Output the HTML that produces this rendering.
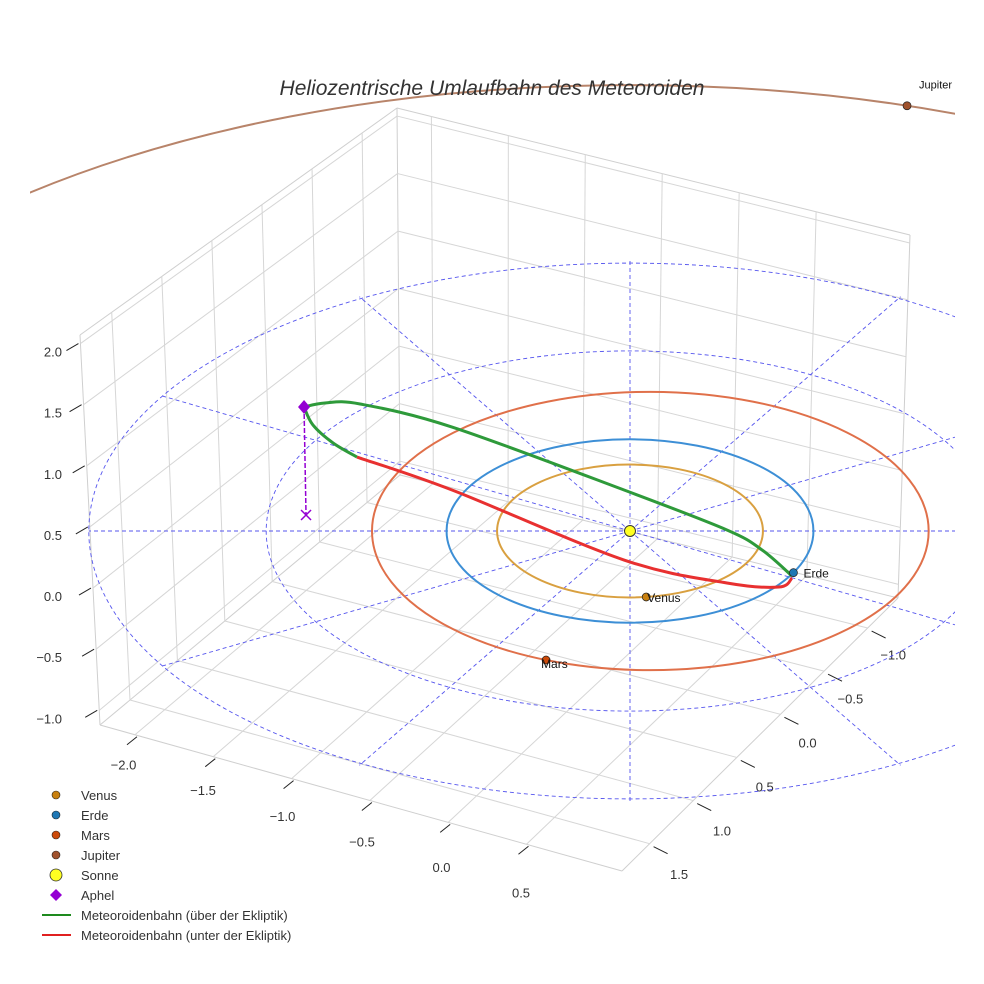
<!DOCTYPE html>
<html><head><meta charset="utf-8"><style>
body{margin:0;background:#fff}
svg{display:block;font-family:"Liberation Sans",sans-serif}
</style></head><body>
<svg id="c" width="984" height="984" viewBox="0 0 984 984">
<defs><clipPath id="clip"><rect x="30" y="0" width="925" height="984"/></clipPath>
<clipPath id="clipJ"><rect x="30" y="0" width="925" height="300"/></clipPath></defs>
<g id="grid"></g>
<g id="ecl" clip-path="url(#clip)"></g>
<g id="jup" clip-path="url(#clipJ)"></g>
<g id="marks"></g>
<text x="492" y="95" text-anchor="middle" font-size="21" font-style="italic" fill="#333">Heliozentrische Umlaufbahn des Meteoroiden</text>
<g id="legend" font-size="13" fill="#333"></g>
</svg>
<script>
// ---- data ----
const xTicks=["−2.0","−1.5","−1.0","−0.5","0.0","0.5"];
const yTicks=["1.5","1.0","0.5","0.0","−0.5","−1.0"];
const zTicks=[-1.0,-0.5,0.0,0.5,1.0,1.5,2.0];
const zLabels=["−1.0","−0.5","0.0","0.5","1.0","1.5","2.0"];
const planetNames=["Venus","Erde","Mars","Jupiter"];
const planetA=[0.723,1.0,1.524,5.2];
const planetShiftX=[0.0,0.0,0.11,0.0];
const planetAngle=[83,27,112,-72.5];
const ringRadii=[2,3];
const spokeAngles=[0,30,60,90,120,150,180,210,240,270,300,330];
const greenX=[-1.762,-1.649,-1.459,-0.962,-0.032,0.524,0.714,0.876];
const greenV=[1.319,1.362,1.351,1.106,0.436,0.011,-0.202,-0.479];
const greenLowX=[-1.762,-1.714,-1.605,-1.476];
const greenLowV=[1.319,1.128,0.936,0.787];
const redX=[-1.476,-0.962,-0.032,0.524,0.805,0.876];
const redV=[0.787,0.436,-0.309,-0.553,-0.596,-0.5];
const aphelX=-1.762, aphelV=1.319, aphelDropV=0.17;

const NS="http://www.w3.org/2000/svg";
function mk(tag,attrs,parent){const e=document.createElementNS(NS,tag);for(const k in attrs)e.setAttribute(k,attrs[k]);parent.appendChild(e);return e;}
const G=document.getElementById('grid'),E=document.getElementById('ecl'),J=document.getElementById('jup'),M=document.getElementById('marks'),LG=document.getElementById('legend');

// ---- box geometry ----
const L=[100,725],F=[622,871],B=[400,475],R=[898,598],Lt=[80,335],Bt=[397,108],Rt=[910,235];
function bil(a,b,c,d,u,v){return [a[0]*(1-u)*(1-v)+b[0]*u*(1-v)+c[0]*(1-u)*v+d[0]*u*v,a[1]*(1-u)*(1-v)+b[1]*u*(1-v)+c[1]*(1-u)*v+d[1]*u*v];}
const floorP=(u,v)=>bil(L,F,B,R,u,v);
const leftP=(v,w)=>bil(L,B,Lt,Bt,v,w);
const backP=(u,w)=>bil(B,R,Bt,Rt,u,w);
const uOf=i=>0.067+i*0.15, vOf=j=>0.1+j*0.158, wOf=z=>(z+1.12)/3.19;
function line(p,q,st,w,name,par){const l=mk('line',{x1:p[0],y1:p[1],x2:q[0],y2:q[1],stroke:st,'stroke-width':w},par||G);return l;}
[[L,B],[B,R],[L,Lt],[Lt,Bt],[B,Bt],[Bt,Rt],[Rt,R],[L,F],[F,R]].forEach(e=>line(e[0],e[1],'#cfcfcf',1,'pane-edge'));
xTicks.forEach((t,i)=>{const u=uOf(i);
 line(floorP(u,0),floorP(u,1),'#d6d6d6',1,'x-grid-line');
 line(backP(u,0),backP(u,1),'#d6d6d6',1,'x-grid-line');
 const e=floorP(u,0);line([e[0]+2,e[1]+2],[e[0]-8,e[1]+10],'#222',1,'x-tick');
 const tx=mk('text',{x:e[0]-12+u*8,y:e[1]+33+u*25,'text-anchor':'middle','font-size':13,fill:'#333'},G);tx.textContent=t;
 });
yTicks.forEach((t,j)=>{const v=vOf(j);
 line(floorP(0,v),floorP(1,v),'#d6d6d6',1,'y-grid-line');
 line(leftP(v,0),leftP(v,1),'#d6d6d6',1,'y-grid-line');
 const e=floorP(1,v);line([e[0]+4,e[1]+3],[e[0]+18,e[1]+10],'#222',1,'y-tick');
 const tx=mk('text',{x:e[0]+30-v*5,y:e[1]+36-v*5,'text-anchor':'middle','font-size':13,fill:'#333'},G);tx.textContent=t;
 });
zTicks.forEach((z,k)=>{const w=wOf(z);
 line(leftP(0,w),leftP(1,w),'#d6d6d6',1,'z-grid-line');
 line(backP(0,w),backP(1,w),'#d6d6d6',1,'z-grid-line');
 const e=leftP(0,w);line([e[0]-2,e[1]],[e[0]-14,e[1]+7],'#222',1,'z-tick');
 const tx=mk('text',{x:62,y:e[1]+13,'text-anchor':'end','font-size':13,fill:'#333'},G);tx.textContent=zLabels[k];
 });

// ---- ecliptic projection ----
const SX=630,SY=531;
const rpx=a=>185*a/(1+0.0085*a);
const flat=a=>a>4?0.484:0.5;
function ecl(a,deg,sx){const r=rpx(a),t=deg*Math.PI/180;return [SX+rpx(sx||0)+r*Math.cos(t),SY+flat(a)*r*Math.sin(t)];}
ringRadii.forEach(a=>{const r=mk('ellipse',{cx:SX,cy:SY,rx:rpx(a),ry:rpx(a)*0.495,fill:'none',stroke:'#5555ee','stroke-width':0.9,'stroke-dasharray':'4,3'},E);
 });
spokeAngles.forEach(d=>{const p=ecl(d===0?6:3,d);const s=line([SX,SY],p,'#5555ee',0.9,'ecliptic-spoke',E);s.setAttribute('stroke-dasharray','4,3');});
const orbitCol=['#d9a040','#3d8fd6','#e0704a','#b8846a'];
const dotCol=['#c8800f','#1f77b4','#cc4a0a','#a0522d'];
planetNames.forEach((n,i)=>{const r=rpx(planetA[i]);
 const o=mk('ellipse',{cx:SX+rpx(planetShiftX[i]),cy:SY,rx:r,ry:r*flat(planetA[i]),fill:'none',stroke:orbitCol[i],'stroke-width':2},i===3?J:M);
 });
// meteoroid
const px=x=>630+185*x, py=v=>531-94*v;
function smooth(xs,vs){const P=xs.map((x,i)=>[px(x),py(vs[i])]);let d='M'+P[0][0]+','+P[0][1];
 for(let i=0;i<P.length-1;i++){const p0=P[Math.max(0,i-1)],p1=P[i],p2=P[i+1],p3=P[Math.min(P.length-1,i+2)];
 d+=' C'+(p1[0]+(p2[0]-p0[0])/6)+','+(p1[1]+(p2[1]-p0[1])/6)+' '+(p2[0]-(p3[0]-p1[0])/6)+','+(p2[1]-(p3[1]-p1[1])/6)+' '+p2[0]+','+p2[1];}return d;}
const rp=mk('path',{d:smooth(redX,redV),fill:'none',stroke:'#e83030','stroke-width':3},M);

const gp=mk('path',{d:smooth(greenX,greenV),fill:'none',stroke:'#2e9a3a','stroke-width':3},M);

const gl=mk('path',{d:smooth(greenLowX,greenLowV),fill:'none',stroke:'#2e9a3a','stroke-width':3},M);

const ad=line([px(aphelX),py(aphelV)],[px(aphelX)+2,py(aphelDropV)],'#9400d3',1.5,'aphel-drop-line',M);ad.setAttribute('stroke-dasharray','5,2');
const ax=px(aphelX)+2,ay=py(aphelDropV);
const xm=mk('path',{d:`M${ax-5},${ay-5}L${ax+5},${ay+5}M${ax-5},${ay+5}L${ax+5},${ay-5}`,stroke:'#9400d3','stroke-width':1.5},M);

const dm=mk('path',{d:`M${px(aphelX)},${py(aphelV)-7}l6,7l-6,7l-6,-7z`,fill:'#9400d3'},M);

// planets
planetNames.forEach((n,i)=>{const p=ecl(planetA[i],planetAngle[i],planetShiftX[i]);
 const c=mk('circle',{cx:p[0],cy:p[1],r:4,fill:dotCol[i],stroke:'#222','stroke-width':0.7},M);
 
 const t=mk('text',{x:i===3?p[0]+12:p[0]+(i===2?-5:i===0?1:10),y:i===3?p[1]-17:p[1]+(i===2?8:5),'font-size':i===3?11:12,fill:'#111'},M);t.textContent=n;
 });
const sun=mk('circle',{cx:SX,cy:SY,r:5.5,fill:'#ffff22',stroke:'#333','stroke-width':1},M);

// legend
const legNames=["Venus","Erde","Mars","Jupiter","Sonne","Aphel","Meteoroidenbahn (über der Ekliptik)","Meteoroidenbahn (unter der Ekliptik)"];
legNames.forEach((n,i)=>{const y=795+i*20;
 let m;
 if(i<4){m=mk('circle',{cx:56,cy:y,r:4,fill:dotCol[i],stroke:'#222','stroke-width':0.6},LG);}
 else if(i===4){m=mk('circle',{cx:56,cy:y,r:6,fill:'#ffff22',stroke:'#333','stroke-width':0.8},LG);}
 else if(i===5){m=mk('path',{d:`M56,${y-6}l6,6l-6,6l-6,-6z`,fill:'#9400d3'},LG);}
 else {m=mk('line',{x1:42,y1:y,x2:71,y2:y,stroke:i===6?'#1e8a1e':'#e02020','stroke-width':2},LG);}
 
 const t=mk('text',{x:81,y:y+5},LG);t.textContent=n;
 });
</script>
</body></html>
